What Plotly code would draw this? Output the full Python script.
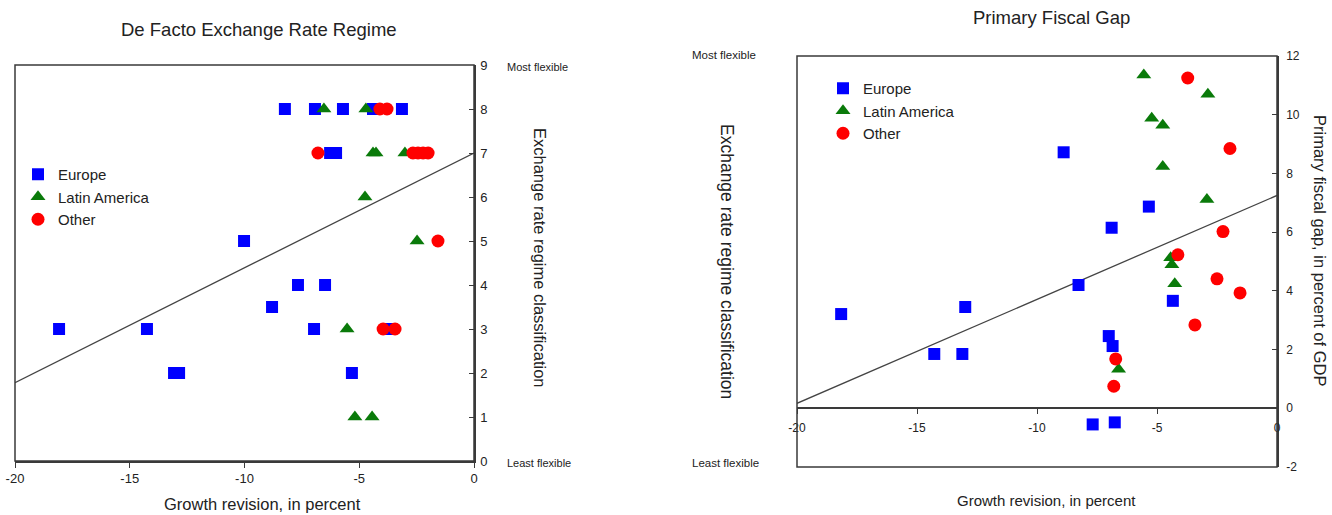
import plotly.graph_objects as go

# ---- data: De Facto Exchange Rate Regime (left panel) ----
eu_x_left = [-8.24, -6.93, -5.71, -4.40, -3.14, -6.27, -6.01, -10.02, -7.67, -6.49,
             -8.80, -18.08, -14.25, -6.97, -3.70, -13.07, -12.85, -5.32]
eu_y_left = [8, 8, 8, 8, 8, 7, 7, 5, 4, 4, 3.5, 3, 3, 3, 3, 2, 2, 2]
la_x_left = [-6.54, -4.71, -4.40, -4.27, -3.01, -4.75, -2.48, -5.53, -5.19, -4.44]
la_y_left = [8, 8, 7, 7, 7, 6, 5, 3, 1, 1]
ot_x_left = [-4.10, -3.79, -6.80, -2.66, -2.44, -2.22, -2.00, -1.57, -3.96, -3.44]
ot_y_left = [8, 8, 7, 7, 7, 7, 7, 5, 3, 3]
fit_left = (7.0, 0.261)  # intercept, slope

# ---- data: Primary Fiscal Gap (right panel) ----
eu_x_right = [-18.16, -14.28, -13.11, -12.99, -8.89, -5.34, -6.89, -8.27, -4.34,
              -7.01, -6.85, -7.68, -6.76]
eu_y_right = [3.21, 1.85, 1.85, 3.45, 8.72, 6.87, 6.15, 4.20, 3.66, 2.46, 2.12, -0.55, -0.48]
la_x_right = [-5.55, -2.88, -5.22, -4.76, -4.76, -2.92, -4.43, -4.38, -4.26, -6.60]
la_y_right = [11.35, 10.7, 9.88, 9.64, 8.24, 7.11, 5.13, 4.89, 4.24, 1.33]
ot_x_right = [-3.72, -1.96, -2.25, -4.13, -2.50, -1.54, -3.42, -6.72, -6.80]
ot_y_right = [11.25, 8.85, 6.02, 5.23, 4.41, 3.93, 2.84, 1.68, 0.75]
fit_right = (7.25, 0.354)

x_ticks = [-20, -15, -10, -5, 0]
x_tick_labels = ["-20", "-15", "-10", "-5", "0"]
y2_ticks = [-2, 0, 2, 4, 6, 8, 10, 12]
y2_tick_labels = ["-2", "0", "2", "4", "6", "8", "10", "12"]
groups = ["Europe", "Latin America", "Other"]
colors = {"Europe": "#0000FF", "Latin America": "#0A7A0A", "Other": "#FF0000"}
symbols = {"Europe": "square", "Latin America": "triangle-up", "Other": "circle"}
sizes = {"Europe": 12, "Latin America": 13, "Other": 13}

FONT = "Arial, Liberation Sans, sans-serif"
W, H = 1332, 515
frame = "#3a3a3a"

fig = go.Figure()

panels = [
    ("x", "y", "legend", [(eu_x_left, eu_y_left), (la_x_left, la_y_left), (ot_x_left, ot_y_left)], fit_left),
    ("x2", "y2", "legend2", [(eu_x_right, eu_y_right), (la_x_right, la_y_right), (ot_x_right, ot_y_right)], fit_right),
]
for xa, ya, leg, series, fit in panels:
    fx = [-20, 0]
    fig.add_trace(go.Scatter(x=fx, y=[fit[0] + fit[1] * v for v in fx], mode="lines",
                             line=dict(color="#444", width=1.3), xaxis=xa, yaxis=ya,
                             showlegend=False, hoverinfo="skip"))
    for g, (xs, ys) in zip(groups, series):
        fig.add_trace(go.Scatter(x=xs, y=ys, mode="markers", name=g, legend=leg,
                                 xaxis=xa, yaxis=ya,
                                 marker=dict(symbol=symbols[g], size=sizes[g], color=colors[g],
                                             line=dict(width=0))))

# plot-area domains (paper fractions)
L_x = [15 / W, 474 / W]
L_y = [1 - 461 / H, 1 - 65 / H]
R_x = [797 / W, 1277 / W]
R_y = [1 - 467 / H, 1 - 56 / H]
zero_pos = R_y[0] + (0 - (-2)) / 14 * (R_y[1] - R_y[0])

tickfont = dict(family=FONT, size=13, color="#222")
common = dict(showline=True, linecolor=frame, linewidth=1.5, tickcolor=frame, ticklen=5,
              showgrid=False, zeroline=False, automargin=False)
fig.update_layout(
    template="none",
    width=W, height=H, margin=dict(l=0, r=0, t=0, b=0, pad=0), autosize=False,
    paper_bgcolor="white", plot_bgcolor="white",
    font=dict(family=FONT, color="#222"),
    xaxis=dict(domain=L_x, range=[-20, 0], tickvals=x_ticks, ticktext=x_tick_labels,
               ticks="outside", anchor="y", tickfont=tickfont, **common),
    yaxis=dict(domain=L_y, range=[0, 9], dtick=1, side="right", ticks="inside",
               anchor="x", tickfont=tickfont, ticklabelstandoff=2, **common),
    xaxis2=dict(domain=R_x, range=[-20, 0], tickvals=x_ticks, ticktext=x_tick_labels,
                ticks="outside", anchor="free", position=zero_pos, ticklabelstandoff=4,
                tickfont=dict(family=FONT, size=12, color="#222"), **common),
    yaxis2=dict(domain=R_y, range=[-2, 12], tickvals=y2_ticks, ticktext=y2_tick_labels,
                side="right", ticks="inside", anchor="x2", ticklabelstandoff=5,
                tickfont=dict(family=FONT, size=12, color="#222"), **common),
    legend=dict(x=18 / W, y=1 - 158 / H, xanchor="left", yanchor="top",
                bgcolor="rgba(0,0,0,0)", font=dict(family=FONT, size=15, color="#222"),
                tracegroupgap=0, itemwidth=30),
    legend2=dict(x=823 / W, y=1 - 72 / H, xanchor="left", yanchor="top",
                 bgcolor="rgba(0,0,0,0)", font=dict(family=FONT, size=15, color="#222"),
                 tracegroupgap=0, itemwidth=30),
    showlegend=True,
)

# frames around both plot areas
for xr, yr in [("x domain", "y domain"), ("x2 domain", "y2 domain")]:
    fig.add_shape(type="rect", xref=xr, yref=yr, x0=0, x1=1, y0=0, y1=1,
                  line=dict(color=frame, width=1.5), layer="above")

def txt(x, y, text, size, angle=0, xanchor="center", yanchor="middle"):
    fig.add_annotation(x=x / W, y=1 - y / H, xref="paper", yref="paper", text=text,
                       showarrow=False, textangle=angle, xanchor=xanchor, yanchor=yanchor,
                       font=dict(family=FONT, size=size, color="#222"))

# titles
txt(259, 29, "De Facto Exchange Rate Regime", 18.5)
txt(1051, 17, "Primary Fiscal Gap", 18.5)
# axis titles
txt(262, 504, "Growth revision, in percent", 16.5)
txt(1046, 500, "Growth revision, in percent", 15)
txt(540, 258, "Exchange rate regime classification", 16.5, angle=90)
txt(727, 261, "Exchange rate regime classification", 17.5, angle=90)
txt(1320, 250, "Primary fiscal gap, in percent of GDP", 16.5, angle=90)
# flexibility labels
txt(505, 67, "Most flexible", 11, xanchor="left")
txt(505, 463, "Least flexible", 11, xanchor="left")
txt(690, 55, "Most flexible", 11.5, xanchor="left")
txt(690, 463, "Least flexible", 11.5, xanchor="left")

# drop the browser's default 8px body margin so the figure sits at the page origin
fig.write_html("out.html", config={"displayModeBar": False},
               post_script="document.body.style.margin='0px';")
